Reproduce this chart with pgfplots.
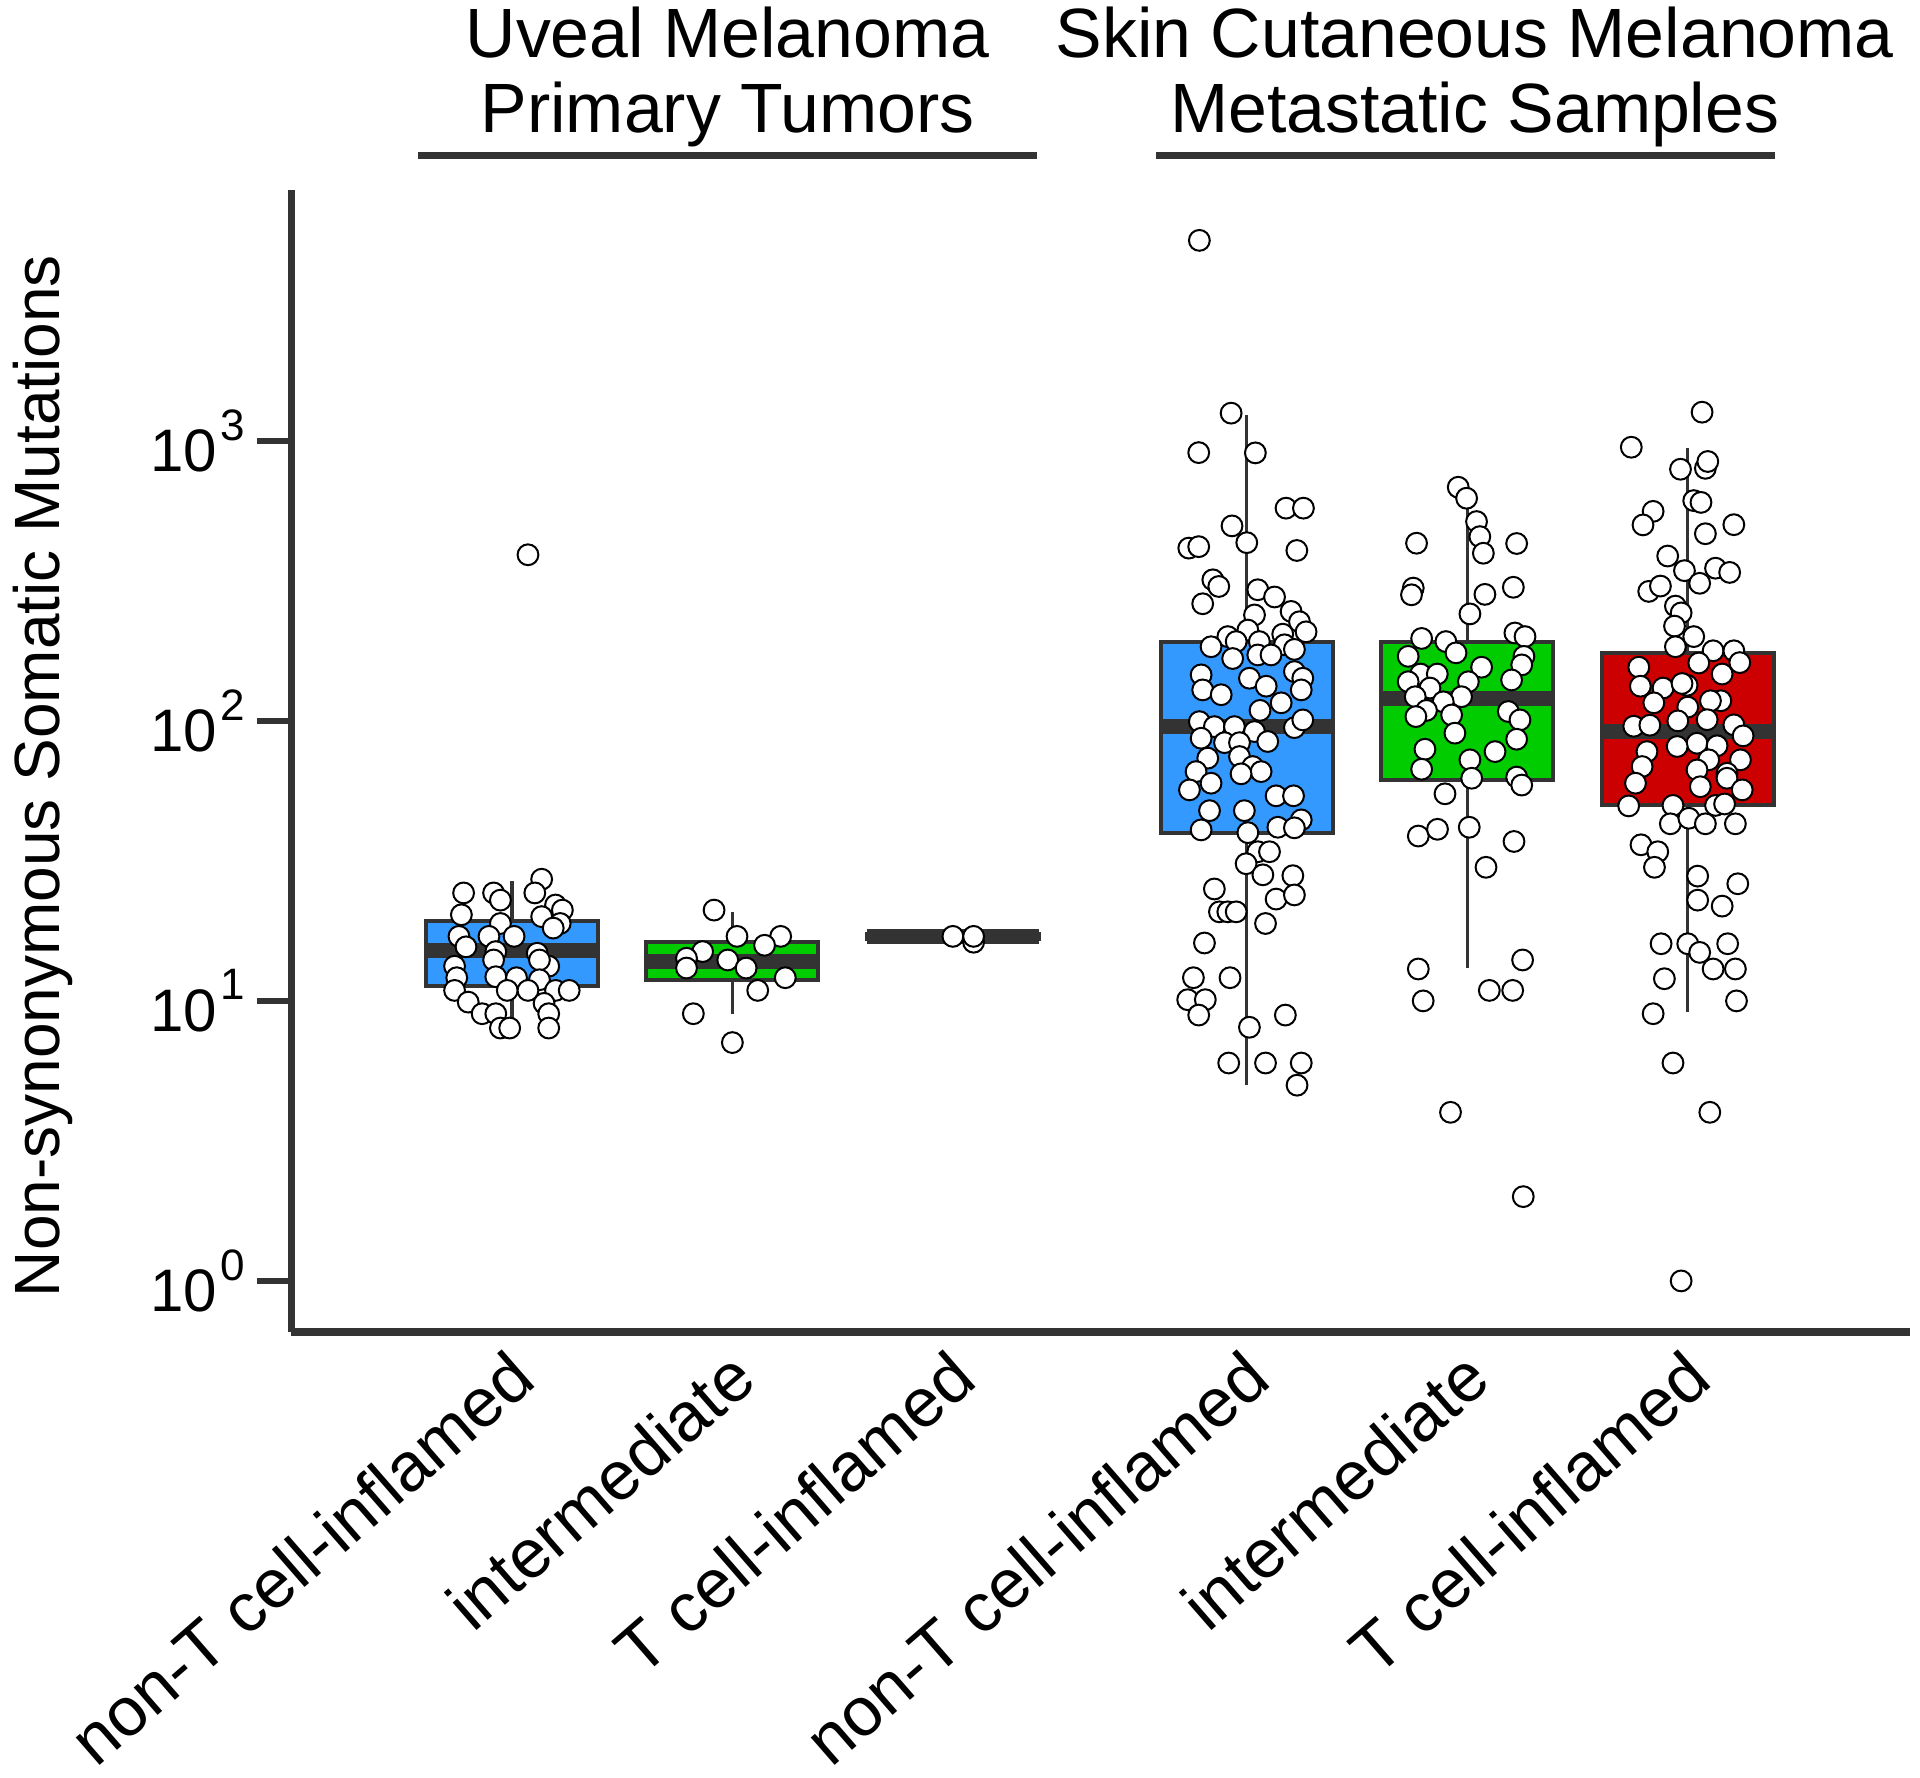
\documentclass[border=0pt]{standalone}
\usepackage{pgfplots}
\pgfplotsset{compat=1.18}
\usepackage{fontspec}
\setmainfont{Liberation Sans}
\definecolor{dgray}{RGB}{51,51,51}
\definecolor{ublue}{RGB}{51,153,255}
\definecolor{ugreen}{RGB}{0,204,0}
\definecolor{ured}{RGB}{204,0,0}
\newcommand{\tlab}[1]{{\fontsize{15pt}{15pt}\selectfont 10\kern0.8pt\raisebox{7.9pt}{\fontsize{11pt}{11pt}\selectfont #1}}}
\pgfplotsset{
  whisk/.style={dgray, line width=0.85pt, forget plot},
  boxs/.style={fill=#1, draw=dgray, line width=1pt, line join=miter, forget plot},
  med/.style={dgray, line width=3.7pt, forget plot},
}
\begin{document}
\begin{tikzpicture}
\begin{axis}[
  scale only axis, width=404.6pt, height=285.5pt,
  xmin=-1, xmax=6.34, ymode=log, ymin=0.657, ymax=7870,
  axis x line*=bottom, axis y line*=left,
  axis line style={line width=1.8pt, draw=dgray},
  yminorticks=false,
  ytick={1,10,100,1000},
  yticklabels={\tlab{0},\tlab{1},\tlab{2},\tlab{3}},
  yticklabel style={anchor=east, inner sep=0pt, xshift=-3pt, text=black},
  tick align=outside, major tick length=8.5pt,
  ytick style={line width=1.5pt, draw=dgray},
  xtick={0,1,2,3.333,4.333,5.333},
  xticklabels={non-T cell-inflamed, intermediate, T cell-inflamed, non-T cell-inflamed, intermediate, T cell-inflamed},
  xtick style={draw=none},
  xticklabel style={font=\fontsize{17.2pt}{17.2pt}\selectfont, xshift=-1.5pt, yshift=5pt, rotate=41, anchor=north east, inner sep=0pt, text=black},
  ylabel={Non-synonymous Somatic Mutations},
  ylabel style={at={([xshift=-69.8pt,yshift=-3.75pt]axis description cs:0,0.5)}, anchor=north, inner sep=0pt, font=\fontsize{16pt}{16pt}\selectfont},
  clip=false,
]
% whiskers
\addplot[whisk] coordinates {(0,8.0) (0,26.9)};
\addplot[whisk] coordinates {(1,9.0) (1,20.8)};
\addplot[whisk] coordinates {(3.333,5.0) (3.333,1240)};
\addplot[whisk] coordinates {(4.333,13.1) (4.333,620)};
\addplot[whisk] coordinates {(5.333,9.1) (5.333,942)};
% boxes
\addplot[boxs=ublue] coordinates {(-0.39,11.3) (0.39,11.3) (0.39,19.3) (-0.39,19.3) (-0.39,11.3) (0.39,11.3)};
\addplot[boxs=ugreen] coordinates {(0.61,11.9) (1.39,11.9) (1.39,16.2) (0.61,16.2) (0.61,11.9) (1.39,11.9)};
\addplot[boxs=ublue] coordinates {(1.61,16.7) (2.39,16.7) (2.39,17.3) (1.61,17.3) (1.61,16.7) (2.39,16.7)};
\addplot[boxs=ublue] coordinates {(2.943,39.9) (3.723,39.9) (3.723,192) (2.943,192) (2.943,39.9) (3.723,39.9)};
\addplot[boxs=ugreen] coordinates {(3.943,61.5) (4.723,61.5) (4.723,192) (3.943,192) (3.943,61.5) (4.723,61.5)};
\addplot[boxs=ured] coordinates {(4.943,50.1) (5.723,50.1) (5.723,174.5) (4.943,174.5) (4.943,50.1) (5.723,50.1)};
% medians
\addplot[med] coordinates {(-0.39,15.1) (0.39,15.1)};
\addplot[med] coordinates {(0.61,13.8) (1.39,13.8)};
\addplot[med] coordinates {(1.61,17.0) (2.39,17.0)};
\addplot[med] coordinates {(2.943,95.5) (3.723,95.5)};
\addplot[med] coordinates {(3.943,120.5) (4.723,120.5)};
\addplot[med] coordinates {(4.943,91.6) (5.723,91.6)};
% points
\addplot[only marks, mark=*, mark size=2.6pt, mark options={fill=white, draw=black, line width=0.5pt}] table {
x y
-0.219 24.3
-0.083 24.3
-0.052 22.9
0.135 27.2
0.104 24.3
0.198 22.0
0.229 21.1
-0.229 20.3
-0.052 18.9
0.135 20.0
0.219 18.9
0.1875 18.2
-0.24 17.0
-0.104 17.0
0.01 17.0
-0.208 15.6
-0.073 15.0
0.115 14.8
-0.083 14.0
-0.26 13.3
0.167 13.3
0.125 14.0
-0.25 12.1
-0.073 12.2
0.021 12.1
0.125 11.9
-0.26 10.9
-0.021 10.9
0.073 10.9
0.198 10.9
0.26 10.9
-0.198 9.9
0.146 9.8
-0.135 9.0
-0.073 9.0
0.167 9.0
-0.052 8.0
-0.01 8.0
0.167 8.0
0.073 392
0.917 21.1
1.021 17.0
1.219 17.0
1.146 15.8
0.865 15.0
0.792 14.2
0.979 14.0
0.792 13.1
1.0625 13.1
1.24 12.1
1.115 10.9
0.823 9.0
1.0 7.1
2.094 16.2
2.0 17.0
2.094 17.0
3.262 1256
3.115 908
3.372 906
3.511 575
3.590 575
3.266 497
3.070 414
3.115 419
3.333 433
3.560 406
3.179 319
3.206 302
3.133 262
3.383 294
3.459 277
3.534 246
3.368 239
3.572 226
3.602 208
3.247 200
3.338 211
3.496 204
3.171 184
3.285 192
3.390 192
3.504 187
3.269 167
3.383 172
3.443 172
3.549 180
3.126 146
3.345 142
3.421 133
3.133 129
3.217 124
3.549 150
3.587 142
3.580 129
3.489 116
3.393 109
3.118 99.4
3.186 95.4
3.277 95.4
3.368 91.6
3.549 94.6
3.587 100.8
3.126 86.7
3.428 84.4
3.232 83.6
3.300 83.6
3.156 73.6
3.300 74.6
3.103 65.9
3.360 68.7
3.398 65.9
3.307 64.7
3.171 59.9
3.073 56.7
3.466 54
3.545 54
3.164 47.8
3.322 47.8
3.580 44.3
3.126 40.8
3.474 41.7
3.549 41.5
3.338 39.9
3.383 34.1
3.436 34.1
3.330 30.9
3.406 28.2
3.542 28.0
3.186 25.1
3.466 23.1
3.549 23.9
3.209 20.8
3.247 20.8
3.285 20.8
3.418 18.9
3.141 16.1
3.091 12.1
3.257 12.1
3.065 10.1
3.145 10.1
3.115 8.9
3.508 8.9
3.345 8.05
3.251 6.0
3.418 6.0
3.580 6.0
3.561 5.0
3.118 5200
4.292 683
4.330 624
4.375 515
4.390 455
4.406 397
4.103 431
4.557 430
4.088 298
4.080 282
4.413 283
4.542 300
4.345 241
4.549 206
4.595 200
4.126 197
4.236 192
4.282 175
4.065 170
4.590 170
4.580 158.5
4.398 155.5
4.121 147
4.197 147
4.065 138
4.338 138
4.534 140
4.164 131
4.097 122
4.307 122
4.224 117
4.148 109
4.519 108
4.100 103.6
4.262 105
4.572 100.8
4.277 90.4
4.557 86
4.141 79.2
4.459 77.7
4.345 72.6
4.126 67.2
4.353 62.4
4.557 63
4.580 59
4.232 54.9
4.111 38.8
4.198 41.0
4.342 41.7
4.545 37.1
4.418 30
4.111 13.0
4.584 14.0
4.133 10.0
4.433 10.9
4.539 10.9
4.257 4.0
4.587 2.0
5.398 1266
5.077 949
5.300 792
5.413 798
5.424 844
5.360 612
5.393 603
5.176 560
5.130 501
5.542 502
5.413 466
5.242 388
5.318 344
5.459 351
5.523 339
5.387 310
5.156 290
5.209 303
5.277 257
5.303 243
5.273 218
5.360 200
5.277 184
5.448 178
5.542 178
5.569 161.5
5.383 161
5.111 155.5
5.489 147
5.118 133
5.221 131
5.330 134
5.307 136
5.483 118
5.436 118
5.179 116
5.333 112
5.421 101
5.288 100
5.542 96.8
5.088 95.7
5.161 96.5
5.584 88.4
5.375 83.2
5.285 81
5.466 81.5
5.572 72.6
5.148 77.7
5.428 72.6
5.126 68.7
5.375 66.8
5.511 65
5.096 59.9
5.390 58.2
5.511 62.4
5.580 56.7
5.065 49.7
5.266 49.9
5.459 49.9
5.500 50.5
5.254 42.9
5.338 44.9
5.413 42.9
5.549 42.9
5.121 36.1
5.197 34.1
5.182 30
5.378 27.9
5.560 26.2
5.378 22.9
5.489 21.8
5.212 16.0
5.333 16.0
5.514 16.0
5.387 14.9
5.448 13.0
5.549 13.0
5.227 12.0
5.554 10.0
5.176 9.0
5.266 6.0
5.433 4.0
5.303 1.0
};
% group titles and underlines
\node[anchor=base, inner sep=0pt, font=\fontsize{17.45pt}{18.7pt}\selectfont] at ([yshift=33.1pt]axis description cs:0.2695,1) {Uveal Melanoma};
\node[anchor=base, inner sep=0pt, font=\fontsize{17.45pt}{18.7pt}\selectfont] at ([yshift=14.45pt]axis description cs:0.2695,1) {Primary Tumors};
\node[anchor=base, inner sep=0pt, font=\fontsize{17.45pt}{18.7pt}\selectfont] at ([yshift=33.1pt]axis description cs:0.7312,1) {Skin Cutaneous Melanoma};
\node[anchor=base, inner sep=0pt, font=\fontsize{17.45pt}{18.7pt}\selectfont] at ([yshift=14.45pt]axis description cs:0.7312,1) {Metastatic Samples};
\draw[dgray, line width=1.8pt] ([yshift=8.6pt]axis description cs:0.0781,1) -- ([yshift=8.6pt]axis description cs:0.461,1);
\draw[dgray, line width=1.8pt] ([yshift=8.6pt]axis description cs:0.5343,1) -- ([yshift=8.6pt]axis description cs:0.9166,1);
\end{axis}
\pgfresetboundingbox
\path (-72.85pt,-111.5pt) rectangle (407.15pt,333pt);
\end{tikzpicture}
\end{document}
